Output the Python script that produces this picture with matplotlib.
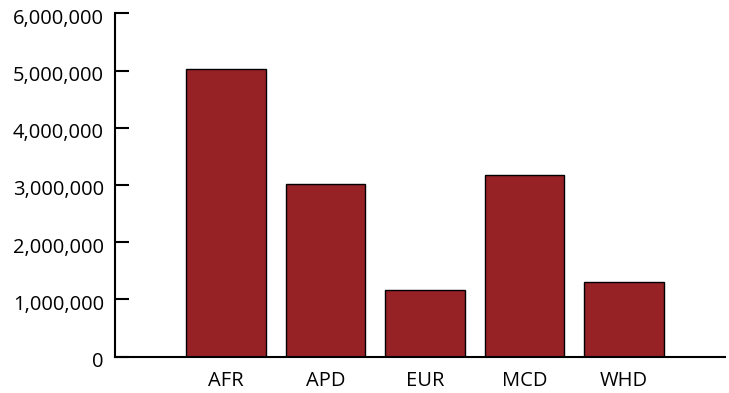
import matplotlib
matplotlib.use("Agg")
import matplotlib.pyplot as plt
import matplotlib.transforms as mtransforms
from matplotlib.ticker import FuncFormatter

categories = ["AFR", "APD", "EUR", "MCD", "WHD"]
values = [5020000, 3010000, 1160000, 3180000, 1310000]
yticks = [0, 1000000, 2000000, 3000000, 4000000, 5000000, 6000000]

plt.rcParams['font.family'] = ['Open Sans', 'DejaVu Sans']

fig = plt.figure(figsize=(7.29, 3.93), dpi=100)
ax = fig.add_axes([115/729, 36.3/393, 610/729, 343.4/393])

x = list(range(len(categories)))
ax.bar(x, values, width=0.8, color="#972226", edgecolor="black", linewidth=1.0)

ax.set_xlim(-1.115, 5.015)
ax.set_ylim(0, 6000000)
ax.set_yticks(yticks)
ax.yaxis.set_major_formatter(FuncFormatter(lambda v, p: f"{int(v):,}"))
ax.set_xticks(x)
ax.set_xticklabels(categories)

for s in ["top", "right"]:
    ax.spines[s].set_visible(False)
for s in ["left", "bottom"]:
    ax.spines[s].set_linewidth(1.5)
    ax.spines[s].set_color("black")

ax.tick_params(axis="y", direction="in", length=10, width=1.5, labelsize=14.5, pad=8)
ax.tick_params(axis="x", length=0, labelsize=14.5, pad=10)

offset = mtransforms.ScaledTranslation(0, -3/100, fig.dpi_scale_trans)
for lbl in ax.get_yticklabels():
    lbl.set_transform(lbl.get_transform() + offset)

fig.savefig("out.png", dpi=100)
